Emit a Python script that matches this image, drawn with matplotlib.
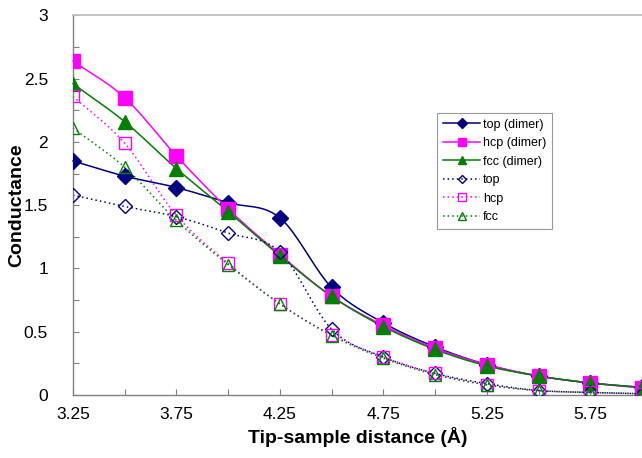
import numpy as np
import matplotlib
matplotlib.use("Agg")
import matplotlib.pyplot as plt

plt.rcParams['font.family'] = ['Liberation Sans', 'DejaVu Sans']

# tip-sample distance (Angstrom)
dist = [3.25, 3.5, 3.75, 4.0, 4.25, 4.5, 4.75, 5.0, 5.25, 5.5, 5.75, 6.0]

top_dimer = [1.85, 1.73, 1.64, 1.52, 1.40, 0.85, 0.57, 0.38, 0.24, 0.15, 0.095, 0.06]
hcp_dimer = [2.64, 2.35, 1.89, 1.47, 1.11, 0.78, 0.55, 0.37, 0.24, 0.15, 0.095, 0.055]
fcc_dimer = [2.46, 2.16, 1.79, 1.45, 1.10, 0.78, 0.54, 0.36, 0.23, 0.15, 0.095, 0.06]
top_mono = [1.58, 1.49, 1.41, 1.28, 1.13, 0.52, 0.30, 0.17, 0.09, 0.035, 0.02, 0.01]
hcp_mono = [2.36, 1.99, 1.42, 1.04, 0.72, 0.475, 0.30, 0.17, 0.08, 0.035, 0.02, 0.01]
fcc_mono = [2.11, 1.80, 1.38, 1.03, 0.72, 0.47, 0.29, 0.16, 0.08, 0.035, 0.02, 0.01]

xticks = [3.25, 3.75, 4.25, 4.75, 5.25, 5.75]
yticks = [0, 0.5, 1, 1.5, 2, 2.5, 3]


def smooth(x, y, n=20):
    # catmull-rom curve through the points (like excel "smoothed line")
    x = np.asarray(x, float)
    y = np.asarray(y, float)
    px = np.concatenate([[2*x[0]-x[1]], x, [2*x[-1]-x[-2]]])
    py = np.concatenate([[2*y[0]-y[1]], y, [2*y[-1]-y[-2]]])
    t = np.linspace(0, 1, n, endpoint=False)
    xs, ys = [], []
    for i in range(1, len(px)-2):
        for p, out in ((px, xs), (py, ys)):
            p0, p1, p2, p3 = p[i-1], p[i], p[i+1], p[i+2]
            out.extend(0.5*((2*p1) + (-p0+p2)*t + (2*p0-5*p1+4*p2-p3)*t**2
                            + (-p0+3*p1-3*p2+p3)*t**3))
    xs.append(x[-1])
    ys.append(y[-1])
    return np.array(xs), np.array(ys)


fig = plt.figure(figsize=(6.42, 4.58), dpi=100)
ax = fig.add_axes([0.1137, 0.1376, 0.8863, 0.8286])

series = [
    ("top (dimer)", top_dimer, "#000080", "-", "D", True, 8),
    ("hcp (dimer)", hcp_dimer, "#ff00ff", "-", "s", True, 10),
    ("fcc (dimer)", fcc_dimer, "#008000", "-", "^", True, 10.5),
    ("top", top_mono, "#000080", (0, (1, 2)), "D", False, 7),
    ("hcp", hcp_mono, "#ff00ff", (0, (1, 2)), "s", False, 9),
    ("fcc", fcc_mono, "#008000", (0, (1, 2)), "^", False, 9),
]

handles = []
for label, vals, col, ls, mk, filled, ms in series:
    sx, sy = smooth(dist, vals)
    ax.plot(sx, sy, color=col, linestyle=ls, lw=1.1, clip_on=False, zorder=2)
    ax.plot(dist, vals, linestyle="none", marker=mk, markersize=ms,
            markerfacecolor=col if filled else "none", markeredgecolor=col,
            markeredgewidth=1.0, clip_on=True, zorder=3)
    h, = ax.plot([], [], color=col, linestyle=ls, lw=1.1, marker=mk,
                 markersize=ms*0.6, markerfacecolor=col if filled else "none",
                 markeredgecolor=col, markeredgewidth=1.0, label=label)
    handles.append(h)

ax.set_xlim(3.25, 6.0)
ax.set_ylim(0, 3)
ax.set_xticks(np.arange(3.25, 6.01, 0.25), minor=True)
ax.set_xticks(xticks)
ax.set_xticklabels([f"{v:.2f}" for v in xticks])
ax.set_yticks(np.arange(0, 3.01, 0.25), minor=True)
ax.set_yticks(yticks)
ax.set_yticklabels([f"{v:g}" for v in yticks])
ax.tick_params(which="both", direction="in", length=4, width=0.8,
               color="#808080", labelsize=12.5, pad=9)
ax.tick_params(axis="y", pad=18)

for s in ("left", "bottom"):
    ax.spines[s].set_color("#808080")
    ax.spines[s].set_linewidth(1.0)
ax.spines["right"].set_visible(False)
ax.spines["top"].set_color("#c0c0c0")
ax.spines["top"].set_linewidth(1.3)

ax.set_xlabel("Tip-sample distance (Å)", fontsize=14, fontweight="bold", labelpad=3)
ax.set_ylabel("Conductance", fontsize=14, fontweight="bold", labelpad=-1)

leg = ax.legend(handles=handles, loc="upper left", bbox_to_anchor=(0.64, 0.743),
                borderaxespad=0, fontsize=9, frameon=True, fancybox=False,
                handlelength=3.0, handletextpad=0.2, labelspacing=0.52,
                borderpad=0.45)
leg.get_frame().set_edgecolor("#808080")
leg.get_frame().set_linewidth(0.8)

fig.savefig("out.png", dpi=100)
